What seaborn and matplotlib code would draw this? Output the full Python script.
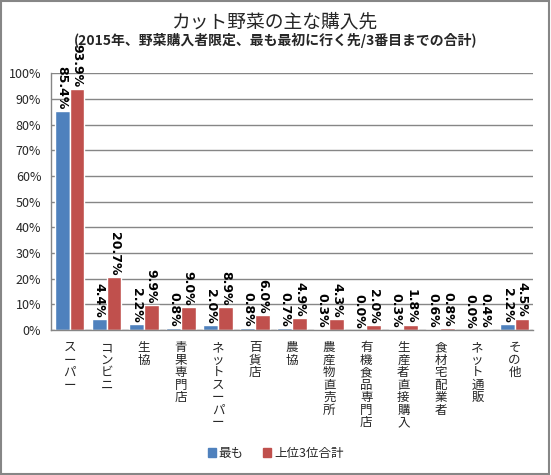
import pandas as pd
import seaborn as sns
import matplotlib.pyplot as plt
from matplotlib.patches import Rectangle
from matplotlib.ticker import FuncFormatter, FixedLocator

# Data (percent)
categories = ["スーパー", "コンビニ", "生協", "青果専門店", "ネットスーパー", "百貨店", "農協",
              "農産物直売所", "有機食品専門店", "生産者直接購入", "食材宅配業者", "ネット通販", "その他"]
most = [85.4, 4.4, 2.2, 0.8, 2.0, 0.8, 0.7, 0.3, 0.0, 0.3, 0.6, 0.0, 2.2]
top3 = [93.9, 20.7, 9.9, 9.0, 8.9, 6.0, 4.9, 4.3, 2.0, 1.8, 0.8, 0.4, 4.5]
series_names = ["最も", "上位3位合計"]
colors = ["#4F81BD", "#C0504D"]

df = pd.DataFrame({
    "cat": categories * 2,
    "value": most + top3,
    "series": [series_names[0]] * len(categories) + [series_names[1]] * len(categories),
})

sns.set_style("white")
plt.rcParams["font.family"] = ["Noto Sans CJK JP", "DejaVu Sans"]

fig = plt.figure(figsize=(5.51, 4.75), dpi=100)
ax = fig.add_axes([0.0926, 0.305, 0.875, 0.541])

sns.barplot(data=df, x="cat", y="value", hue="series", palette=colors,
            width=0.8, gap=0, ax=ax, legend=False, saturation=1)

# rotated labels above bars
for cont in ax.containers:
    vals = [b.get_height() for b in cont]
    ax.bar_label(cont, labels=[f"{v:.1f}%" for v in vals], rotation=-90,
                 padding=1, fontsize=9, fontweight="bold", color="black",
                 family=["DejaVu Sans"])

ax.set_ylim(0, 100)
ax.set_xlim(-0.5, len(categories) - 0.5)
ax.yaxis.set_major_locator(FixedLocator(range(0, 101, 10)))
ax.yaxis.set_major_formatter(FuncFormatter(lambda v, p: f"{int(v)}%"))
ax.grid(axis="y", color="#868686", linewidth=1)
ax.set_axisbelow(True)
ax.set_xlabel("")
ax.set_ylabel("")

# vertical (stacked) category labels
ax.set_xticks(range(len(categories)))
ax.set_xticklabels(["\n".join(c) for c in categories], fontsize=9,
                   linespacing=0.95, va="top")
ax.tick_params(axis="x", length=0, pad=8)
ax.set_xticks([i - 0.5 for i in range(len(categories) + 1)], minor=True)
ax.tick_params(axis="x", which="minor", length=5, color="#868686", direction="out")
ax.tick_params(axis="y", labelsize=9, length=4, color="#868686", pad=3)

for s in ["top", "right"]:
    ax.spines[s].set_visible(False)
for s in ["left", "bottom"]:
    ax.spines[s].set_color("#868686")
    ax.spines[s].set_linewidth(1)

fig.text(0.5, 0.955, "カット野菜の主な購入先", ha="center", va="center", fontsize=13.5)
fig.text(0.5, 0.914, "(2015年、野菜購入者限定、最も最初に行く先/3番目までの合計)",
         ha="center", va="center", fontsize=10, fontweight="bold")

handles = [Rectangle((0, 0), 1, 1, color=c) for c in colors]
fig.legend(handles, series_names, loc="center", bbox_to_anchor=(0.5, 0.045),
           ncol=2, frameon=False, fontsize=9, handlelength=0.7, handleheight=0.7,
           handletextpad=0.2, columnspacing=1.5)

# outer border
fig.patches.append(Rectangle((0.002, 0.002), 0.995, 0.995, transform=fig.transFigure,
                             fill=False, edgecolor="#868686", linewidth=1.5))

plt.savefig("out.png", dpi=100)
